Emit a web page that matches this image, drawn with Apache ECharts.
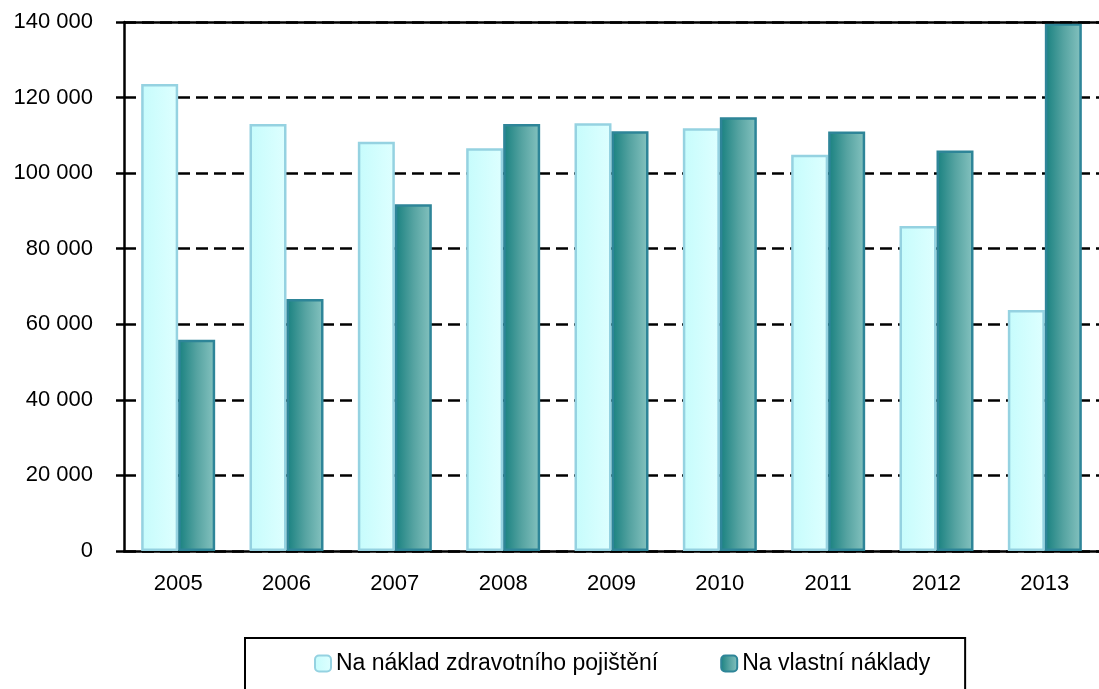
<!DOCTYPE html>
<html>
<head>
<meta charset="utf-8">
<script src="https://cdn.jsdelivr.net/npm/echarts@6/dist/echarts.min.js"></script>
<style>
	html, body { margin: 0; padding: 0; background: #fff; }
	#chart { width: 1099px; height: 689px; }
</style>
</head>
<body>
<div id="chart"></div>
<script>
// data
let years = ["2005", "2006", "2007", "2008", "2009", "2010", "2011", "2012", "2013"]
let insured = [123600, 113000, 108300, 106600, 113200, 111900, 104900, 86000, 63800]
let ownCost = [55900, 66700, 91800, 113000, 111100, 114800, 111000, 106000, 139700]
let yTicks = [0, 20000, 40000, 60000, 80000, 100000, 120000, 140000]

let font = "'Liberation Sans', Arial, sans-serif"

function fmt(v) {
	return String(v).replace(/\B(?=(\d{3})+(?!\d))/g, " ")
}

let chart = echarts.init(document.getElementById("chart"))
chart.setOption({
	animation: false,
	backgroundColor: "#fff",
	textStyle: { fontFamily: font, color: "#000" },
	grid: { left: 124, right: 0, top: 22, bottom: 138, outerBoundsMode: "none" },
	legend: {
		left: 245,
		top: 638,
		padding: [14, 35, 30, 69],
		borderColor: "#000",
		borderWidth: 2,
		itemWidth: 16,
		itemHeight: 16,
		itemGap: 62,
		textStyle: { fontFamily: font, fontSize: 23, color: "#000" }
	},
	xAxis: {
		type: "category",
		data: years,
		axisLine: { lineStyle: { color: "#000", width: 2.5 } },
		axisTick: { length: 8, lineStyle: { color: "#000", width: 2.5 } },
		axisLabel: { fontFamily: font, fontSize: 22, color: "#000", margin: 22 }
	},
	yAxis: {
		type: "value",
		min: yTicks[0],
		max: yTicks[yTicks.length - 1],
		interval: yTicks[1] - yTicks[0],
		axisLine: { show: true, lineStyle: { color: "#000", width: 2.5 } },
		axisTick: { show: true, length: 8, lineStyle: { color: "#000", width: 2.5 } },
		axisLabel: {
			fontFamily: font, fontSize: 22, color: "#000", margin: 31,
			formatter: function (v) { return fmt(v) }
		},
		splitLine: { lineStyle: { color: "#000", width: 2.5, type: [12, 6] } }
	},
	series: [
		{
			name: "Na náklad zdravotního pojištění",
			type: "bar",
			data: insured,
			barWidth: 37,
			barGap: "0%",
			itemStyle: {
				color: new echarts.graphic.LinearGradient(0, 0, 1, 0, [
					{ offset: 0, color: "#C6FCFC" },
					{ offset: 1, color: "#DEFFFF" }
				]),
				borderColor: "#95D2E1",
				borderWidth: 2.5
			},
			markLine: {
				silent: true,
				symbol: "none",
				label: { show: false },
				lineStyle: { color: "#000", width: 2.5, type: "solid" },
				data: [{ yAxis: yTicks[yTicks.length - 1] }]
			}
		},
		{
			name: "Na vlastní náklady",
			type: "bar",
			data: ownCost,
			barWidth: 37,
			itemStyle: {
				color: new echarts.graphic.LinearGradient(0, 0, 1, 0, [
					{ offset: 0, color: "#17807F" },
					{ offset: 0.5, color: "#55A3A1" },
					{ offset: 1, color: "#86C3C0" }
				]),
				borderColor: "#2E8598",
				borderWidth: 2.5
			}
		}
	]
})
</script>
</body>
</html>
